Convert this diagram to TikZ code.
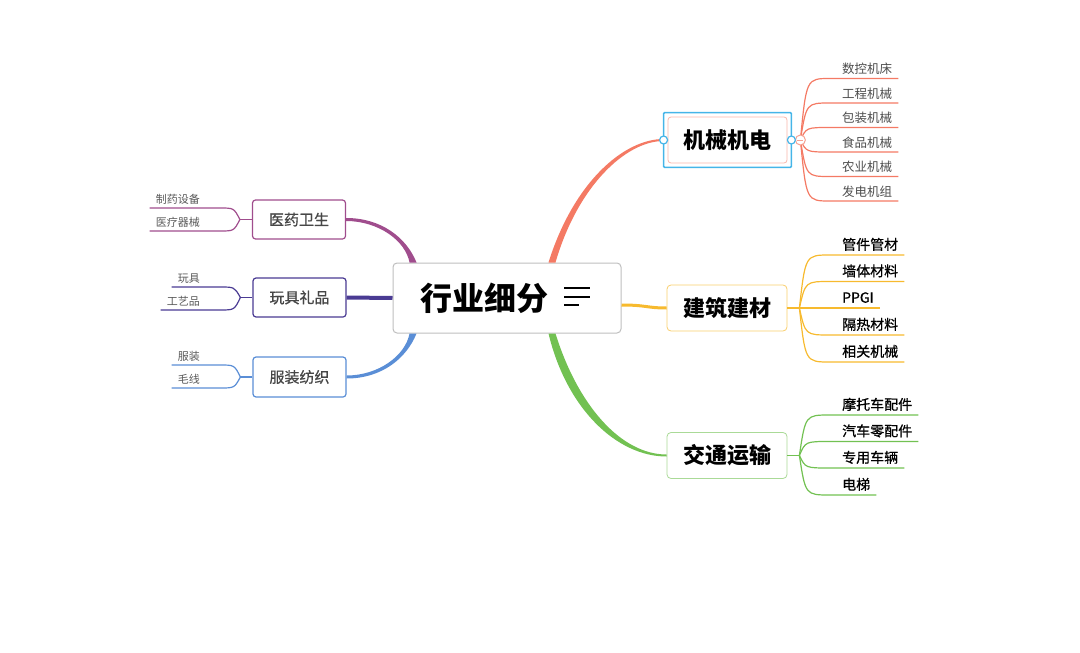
\documentclass[tikz,border=0pt]{standalone}
\usepackage{fontspec}
\usepackage{tikz}
\usetikzlibrary{calc}
\newfontfamily\cjk{Noto Sans CJK SC}
\newfontfamily\cjkmed[FakeBold=0.8]{Noto Sans CJK SC}
\definecolor{jxred}{HTML}{F47A64}
\definecolor{jzorange}{HTML}{F7BA2E}
\definecolor{jtgreen}{HTML}{72C152}
\definecolor{yypurple}{HTML}{A04D8D}
\definecolor{wjindigo}{HTML}{4A3B93}
\definecolor{fzblue}{HTML}{5A8ED6}
\definecolor{selblue}{HTML}{45B5E8}
% fan from a fork point out to the underline of a leaf
\newcommand\forkR[2]{(#1) .. controls ($(#1 |- #2.south west)+(6,0)$) .. ($(#2.south west)+(-6,0)$) -- (#2.south east)}
\newcommand\forkL[2]{(#1) .. controls ($(#1 |- #2.south east)+(-6,0)$) .. ($(#2.south east)+(14,0)$) -- (#2.south west)}

\begin{document}
\begin{tikzpicture}[x=1pt, y=-1pt,
  topic/.style={draw, line width=0.8pt, rounded corners=4pt, fill=white, minimum width=120pt, minimum height=46pt, font=\cjk\bfseries\fontsize{22pt}{26pt}\selectfont},
  subtopic/.style={draw, line width=1.2pt, rounded corners=3pt, fill=white, minimum width=93pt, minimum height=39pt, font=\cjkmed\fontsize{15pt}{18pt}\selectfont, text=black!72},
  jxleaf/.style={anchor=south west, inner xsep=6pt, inner ysep=3.4pt, text height=10pt, text depth=1.2pt, font=\cjk\fontsize{12.5pt}{14pt}\selectfont, text=black!70},
  jzleaf/.style={anchor=south west, inner xsep=6pt, inner ysep=3.7pt, text height=11.2pt, text depth=1.4pt, font=\cjkmed\fontsize{14pt}{16pt}\selectfont, text=black},
  leafL/.style={anchor=south east, inner xsep=6pt, inner ysep=3pt, text height=8.8pt, text depth=1.1pt, font=\cjk\fontsize{11pt}{13pt}\selectfont, text=black!65},
  twig/.style={line width=1.2pt}]
  \useasboundingbox (0,0) rectangle (1080,653);

  % main topic
  \node[draw=black!25, line width=1pt, rounded corners=4pt, fill=white, minimum width=228pt, minimum height=70pt, font=\cjk\bfseries\fontsize{32pt}{38pt}\selectfont] (centre) at (507,298) {\makebox[174pt][l]{行业细分}};
  \draw[line width=1.8pt] ($(centre.center)+(57,-10)$) -- +(26,0);
  \draw[line width=1.8pt] ($(centre.center)+(57,-1)$) -- +(26,0);
  \draw[line width=1.8pt] ($(centre.center)+(57,7)$) -- +(15,0);

  % right topics
  \node[topic, draw=jxred!55, minimum width=119pt, rounded corners=3pt] (jixie) at (727.5,140) {机械机电};
  \node[topic, draw=jzorange!70] (jianzhu) at (727,308) {建筑建材};
  \node[topic, draw=jtgreen!60] (jiaotong) at (727,455.5) {交通运输};

  % left topics
  \node[subtopic, draw=yypurple] (yiyao) at (299,219.5) {医药卫生};
  \node[subtopic, draw=wjindigo] (wanju) at (299.5,297.5) {玩具礼品};
  \node[subtopic, draw=fzblue, minimum height=40pt] (fuzhuang) at (299.5,377) {服装纺织};

  % branches
  \coordinate (jxs) at ($(centre.north)+(45,0)$);
  \coordinate (jxin) at ($(jixie.west)+(-4,0)$);
  \fill[jxred] ($(jxs)+(-3.5,0)$) .. controls +(25,-80) and +(-40,0) .. ($(jxin)+(0,-1)$) -- ($(jxin)+(0,1)$) .. controls +(-38,0) and +(22,-76) .. ($(jxs)+(3.5,0)$) -- cycle;
  \coordinate (jts) at ($(centre.south)+(45,0)$);
  \fill[jtgreen] ($(jts)+(-3.5,0)$) .. controls +(18,75) and +(-50,0) .. ($(jiaotong.west)+(0,1)$) -- ($(jiaotong.west)+(0,-1)$) .. controls +(-46,0) and +(22,71) .. ($(jts)+(3.5,0)$) -- cycle;
  \draw[jzorange, line width=3pt] ($(centre.east)+(0,7)$) .. controls +(25,0) and +(-20,0) .. (jianzhu.west);
  \coordinate (yys) at ($(centre.north)+(-94,0)$);
  \fill[yypurple] ($(yys)+(3.5,0)$) .. controls +(-10,-25) and +(35,0) .. ($(yiyao.east)+(0,-1.5)$) -- ($(yiyao.east)+(0,1.5)$) .. controls +(32,0) and +(-4,-22) .. ($(yys)+(-3.5,0)$) -- cycle;
  \coordinate (fzs) at ($(centre.south)+(-94,0)$);
  \fill[fzblue] ($(fzs)+(3.5,0)$) .. controls +(-10,25) and +(35,0) .. ($(fuzhuang.east)+(0,1.5)$) -- ($(fuzhuang.east)+(0,-1.5)$) .. controls +(32,0) and +(-4,22) .. ($(fzs)+(-3.5,0)$) -- cycle;
  \draw[wjindigo, line width=4pt] (wanju.east) -- (centre.west);

  % selected topic frame
  \draw[selblue, line width=1.5pt, rounded corners=1pt] ($(jixie.north west)+(-4,-4)$) rectangle ($(jixie.south east)+(4,4)$);

  % 机械机电 leaves
  \coordinate (jxfork) at ($(jixie.east)+(13,0)$);
  \node[jxleaf] (jx1) at (836,78.5) {数控机床};
  \node[jxleaf] (jx2) at (836,103) {工程机械};
  \node[jxleaf] (jx3) at (836,127.5) {包装机械};
  \node[jxleaf] (jx4) at (836,152) {食品机械};
  \node[jxleaf] (jx5) at (836,176.5) {农业机械};
  \node[jxleaf] (jx6) at (836,201) {发电机组};
  \draw[twig, jxred] \forkR{jxfork}{jx1};
  \draw[twig, jxred] \forkR{jxfork}{jx2};
  \draw[twig, jxred] \forkR{jxfork}{jx3};
  \draw[twig, jxred] \forkR{jxfork}{jx4};
  \draw[twig, jxred] \forkR{jxfork}{jx5};
  \draw[twig, jxred] \forkR{jxfork}{jx6};
  \node[circle, draw=jxred!70, fill=white, line width=1pt, minimum size=10pt, inner sep=0pt] (jxknob) at (jxfork) {};
  \draw[jxred!70, line width=1pt] ($(jxknob.center)+(-3,0)$) -- +(6,0);
  \node[circle, draw=selblue, fill=white, line width=1.2pt, minimum size=8pt, inner sep=0pt] (jxinknob) at (jxin) {};
  \node[circle, draw=selblue, fill=white, line width=1.2pt, minimum size=8pt, inner sep=0pt] (jxoutknob) at ($(jixie.east)+(4,0)$) {};

  % 建筑建材 leaves
  \coordinate (jzfork) at ($(jianzhu.east)+(12,0)$);
  \draw[twig, jzorange, line width=1.5pt] (jianzhu.east) -- (jzfork);
  \node[jzleaf] (jz1) at (836,255) {管件管材};
  \node[jzleaf] (jz2) at (836,281.5) {墙体材料};
  \node[jzleaf] (jz3) at (836,308) {PPGI};
  \node[jzleaf] (jz4) at (836,335) {隔热材料};
  \node[jzleaf] (jz5) at (836,362) {相关机械};
  \draw[twig, jzorange] \forkR{jzfork}{jz1};
  \draw[twig, jzorange] \forkR{jzfork}{jz2};
  \draw[twig, jzorange] \forkR{jzfork}{jz3};
  \draw[twig, jzorange] \forkR{jzfork}{jz4};
  \draw[twig, jzorange] \forkR{jzfork}{jz5};

  % 交通运输 leaves
  \coordinate (jtfork) at ($(jiaotong.east)+(12,0)$);
  \draw[twig, jtgreen, line width=1.5pt] (jiaotong.east) -- (jtfork);
  \node[jzleaf] (jt1) at (836,415) {摩托车配件};
  \node[jzleaf] (jt2) at (836,441.5) {汽车零配件};
  \node[jzleaf] (jt3) at (836,468) {专用车辆};
  \node[jzleaf] (jt4) at (836,495) {电梯};
  \draw[twig, jtgreen] \forkR{jtfork}{jt1};
  \draw[twig, jtgreen] \forkR{jtfork}{jt2};
  \draw[twig, jtgreen] \forkR{jtfork}{jt3};
  \draw[twig, jtgreen] \forkR{jtfork}{jt4};

  % left leaves
  \coordinate (yyfork) at ($(yiyao.west)+(-12,0)$);
  \draw[twig, yypurple] (yiyao.west) -- (yyfork);
  \node[leafL] (yy1) at (206,208) {制药设备};
  \node[leafL] (yy2) at (206,231) {医疗器械};
  \draw[twig, yypurple] \forkL{yyfork}{yy1};
  \draw[twig, yypurple] \forkL{yyfork}{yy2};

  \coordinate (wjfork) at ($(wanju.west)+(-12,0)$);
  \draw[twig, wjindigo] (wanju.west) -- (wjfork);
  \node[leafL] (wj1) at (206,287) {玩具};
  \node[leafL] (wj2) at (206,310) {工艺品};
  \draw[twig, wjindigo] \forkL{wjfork}{wj1};
  \draw[twig, wjindigo] \forkL{wjfork}{wj2};

  \coordinate (fzfork) at ($(fuzhuang.west)+(-12,0)$);
  \draw[twig, fzblue] (fuzhuang.west) -- (fzfork);
  \node[leafL] (fz1) at (206,365) {服装};
  \node[leafL] (fz2) at (206,388) {毛线};
  \draw[twig, fzblue] \forkL{fzfork}{fz1};
  \draw[twig, fzblue] \forkL{fzfork}{fz2};
\end{tikzpicture}
\end{document}
